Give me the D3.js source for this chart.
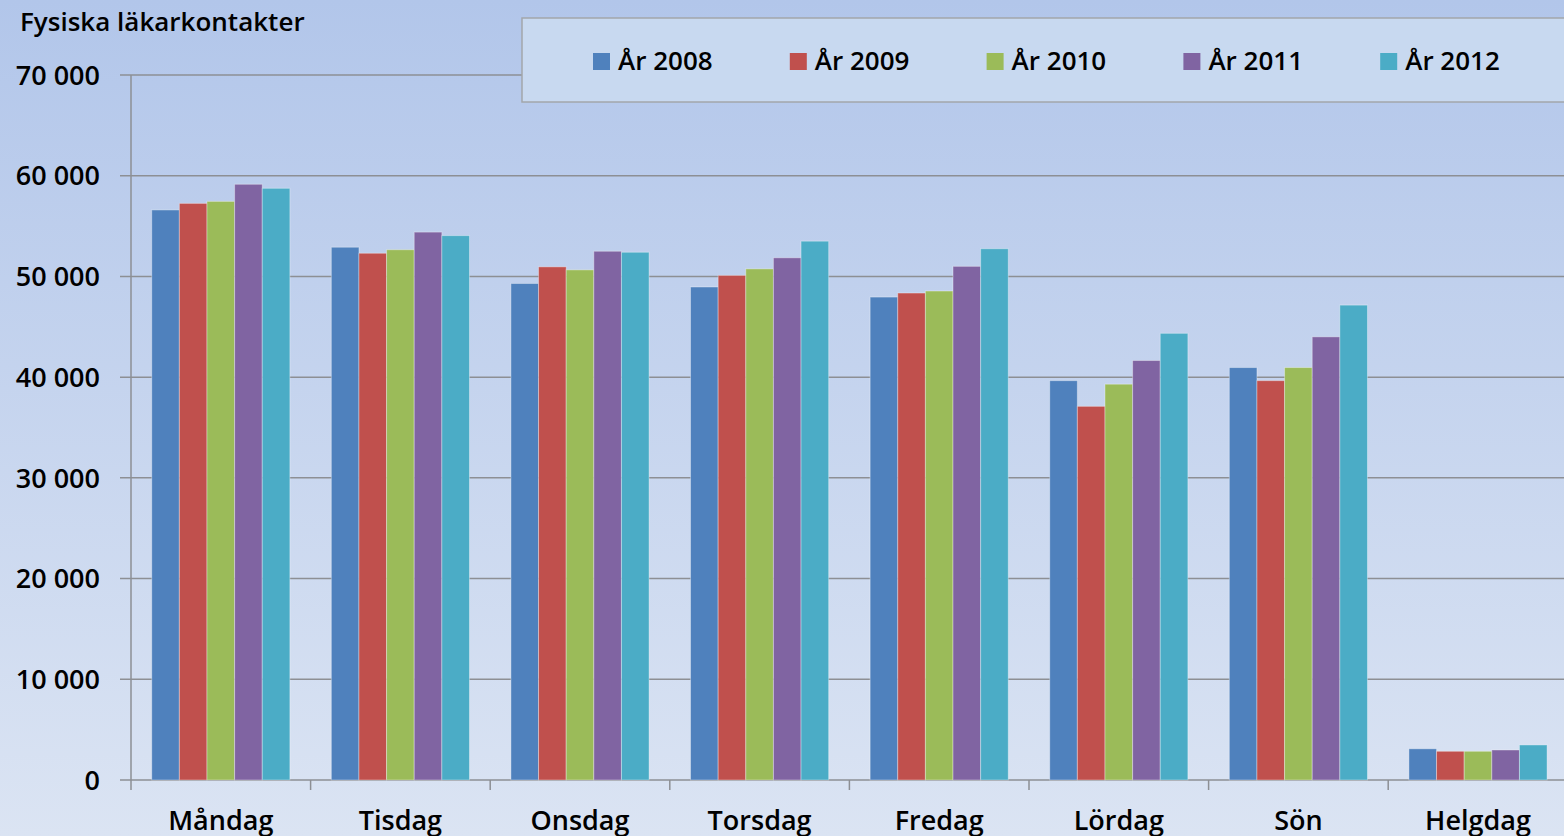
<!DOCTYPE html>
<html>
<head>
<meta charset="utf-8">
<script src="https://cdn.jsdelivr.net/npm/d3@7"></script>
<style>
  html,body{margin:0;padding:0;background:#c6d4ee;}
  svg{display:block;}
  text{font-family:"Open Sans",sans-serif;fill:#000;}
</style>
</head>
<body>
<svg id="chart" width="1564" height="836"></svg>
<script>
// data
const categories=["Måndag","Tisdag","Onsdag","Torsdag","Fredag","Lördag","Sön","Helgdag"];
const years=["År 2008","År 2009","År 2010","År 2011","År 2012"];
const colors=["#4f81bd","#c0504d","#9bbb59","#8064a2","#4bacc6"];
const v2008=[56600,52900,49300,48950,47950,39650,40950,3100];
const v2009=[57250,52300,50950,50100,48350,37100,39650,2850];
const v2010=[57450,52650,50650,50750,48550,39300,40950,2850];
const v2011=[59150,54400,52500,51850,51000,41650,44000,2980];
const v2012=[58750,54050,52400,53500,52750,44350,47150,3480];
const series=[v2008,v2009,v2010,v2011,v2012];
const yTicks=[0,10000,20000,30000,40000,50000,60000,70000];
const title="Fysiska läkarkontakter";

const svg=d3.select("#chart");
const W=1564,H=836;

// bakgrund med gradient
const defs=svg.append("defs");
const grad=defs.append("linearGradient").attr("id","bg").attr("x1",0).attr("y1",0).attr("x2",0).attr("y2",1);
grad.append("stop").attr("offset","0%").attr("stop-color","#b2c6ea");
grad.append("stop").attr("offset","100%").attr("stop-color","#dbe4f3");
svg.append("rect").attr("width",W).attr("height",H).attr("fill","url(#bg)");

// skalor
const left=131, step=179.6;
const x0=d3.scaleBand().domain(categories).range([left,left+step*categories.length]).padding(0);
const bw=x0.bandwidth();
const gap=bw*1.5/6.5;
const x1=d3.scaleBand().domain(years).range([gap/2,bw-gap/2]).padding(0);
const y=d3.scaleLinear().domain([0,70000]).range([780,75]);

const fmt=d=>d3.format(",")(d).replace(/,/g," ");

// rutnät
svg.append("g").selectAll("line").data(yTicks).join("line")
  .attr("x1",120).attr("x2",left+step*categories.length)
  .attr("y1",d=>y(d)).attr("y2",d=>y(d))
  .attr("stroke","#8d8f94").attr("stroke-width",1.5);

// y-axel
svg.append("line").attr("x1",left).attr("x2",left).attr("y1",y(70000)).attr("y2",790)
  .attr("stroke","#8d8f94").attr("stroke-width",1.5);

// kategori-tickar
svg.append("g").selectAll("line").data(categories.slice(1)).join("line")
  .attr("x1",d=>x0(d)).attr("x2",d=>x0(d)).attr("y1",y(0)).attr("y2",790)
  .attr("stroke","#8d8f94").attr("stroke-width",1.5);

// staplar
const groups=svg.append("g").selectAll("g").data(categories).join("g")
  .attr("transform",d=>`translate(${x0(d)},0)`);
groups.selectAll("rect").data((c,ci)=>years.map((yr,si)=>({yr,si,v:series[si][ci]}))).join("rect")
  .attr("x",d=>x1(d.yr)).attr("width",x1.bandwidth())
  .attr("y",d=>y(d.v)).attr("height",d=>y(0)-y(d.v))
  .attr("fill",d=>colors[d.si])
  .attr("stroke","rgba(255,255,255,0.35)").attr("stroke-width",1);

// y-etiketter
svg.append("g").selectAll("text").data(yTicks).join("text")
  .attr("x",100).attr("y",d=>y(d)).attr("dy","0.36em")
  .attr("text-anchor","end").attr("font-size",27).attr("font-weight",600)
  .text(fmt);

// kategorietiketter
svg.append("g").selectAll("text").data(categories).join("text")
  .attr("x",d=>x0(d)+bw/2).attr("y",830)
  .attr("text-anchor","middle").attr("font-size",27).attr("font-weight",600)
  .text(d=>d);

// titel
svg.append("text").attr("x",20).attr("y",31).attr("font-size",26).attr("font-weight",600).text(title);

// legend
const lg=svg.append("g");
lg.append("rect").attr("x",522).attr("y",18).attr("width",1100).attr("height",84)
  .attr("fill","#c8d9f0").attr("stroke","#a3a6ab").attr("stroke-width",1.5);
const items=lg.selectAll("g").data(years).join("g")
  .attr("transform",(d,i)=>`translate(${593+i*196.8},0)`);
items.append("rect").attr("x",0).attr("y",53).attr("width",17).attr("height",17)
  .attr("fill",(d,i)=>colors[i]);
items.append("text").attr("x",25).attr("y",70).attr("font-size",26).attr("font-weight",600)
  .text(d=>d);
</script>
</body>
</html>
